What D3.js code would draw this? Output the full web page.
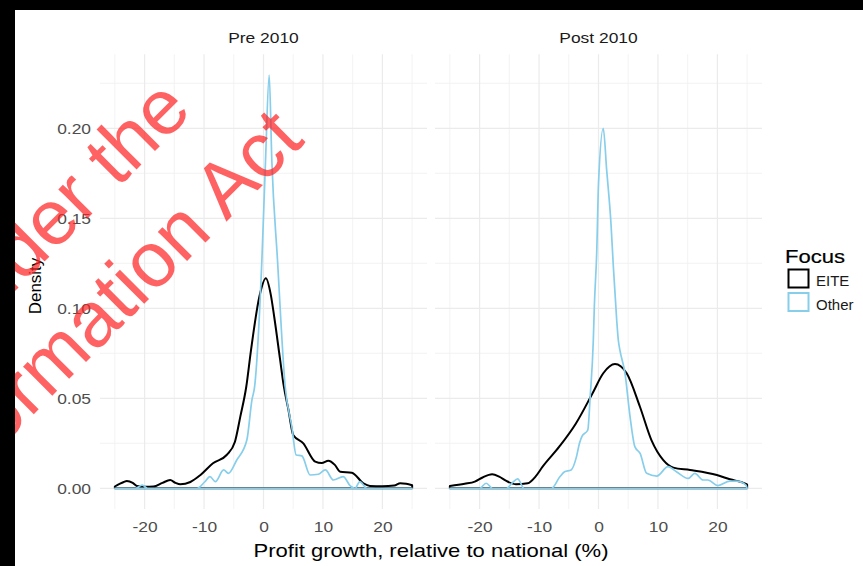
<!DOCTYPE html>
<html>
<head>
<meta charset="utf-8">
<script src="https://cdn.jsdelivr.net/npm/d3@7"></script>
<style>
  body { margin: 0; background: #000; }
  svg { display: block; font-family: "Liberation Sans", Arial, sans-serif; }
</style>
</head>
<body>
<script>
var width = 863,
    height = 566;

// density curves: [x, density]
var preEITE = [[-25,0.001],[-23.5,0.0035],[-23,0.004],[-22,0.003],[-21.3,0.0013],[-20,0.0009],[-18.5,0.001],
    [-17,0.003],[-15.7,0.0046],[-14.8,0.003],[-14,0.0022],[-12.3,0.0035],[-10.6,0.0074],[-8.5,0.0139],
    [-6.2,0.0185],[-4.8,0.0259],[-3.9,0.0398],[-2.9,0.0564],[-2.1,0.0768],[-0.7,0.1064],[0.4,0.1167],
    [1.2,0.108],[1.8,0.0953],[2.8,0.0713],[3.4,0.057],[4.2,0.0435],[5.0,0.0296],[6.7,0.025],[8.7,0.0148],
    [9.8,0.014],[10.9,0.0153],[12.0,0.013],[12.9,0.0092],[14.85,0.0087],[16.8,0.0028],[17.9,0.0013],
    [20,0.0011],[22,0.0015],[23,0.0028],[24,0.0025],[25,0.0017]];
var preOther = [[-25,0],[-21.5,0],[-20.4,0.0018],[-19.5,0],[-11.2,0],[-9.9,0.0035],[-9,0.0065],[-8.1,0.0037],
    [-6.7,0.0102],[-5.9,0.0083],[-4.5,0.0157],[-2.8,0.0268],[-1.95,0.049],[-1.5,0.0564],[-0.27,0.127],
    [0.34,0.182],[0.96,0.2296],[1.4,0.182],[2.35,0.127],[3.65,0.0564],[4.77,0.034],[5.5,0.0185],
    [6.45,0.018],[7.85,0.0074],[9.2,0.0078],[10.4,0.0102],[11.76,0.0046],[13.4,0.0065],[14.6,0.0013],
    [15.4,0],[16.2,0.0037],[17.4,0],[25,0]];
var postEITE = [[-25,0.0013],[-22.5,0.0025],[-20.8,0.0037],[-19.5,0.006],[-17.9,0.0078],[-16.7,0.0065],
    [-15.5,0.0041],[-13.9,0.0022],[-11.9,0.0028],[-10.6,0.0065],[-9.4,0.012],[-6.6,0.0231],[-3.8,0.036],
    [-1,0.0528],[0.8,0.0639],[2.77,0.069],[4.74,0.0639],[6.97,0.0453],[8.9,0.0268],[10.9,0.0157],
    [12.6,0.0115],[15.4,0.0102],[19.9,0.0074],[22.1,0.005],[24.8,0.0024],[25,0.002]];
var postOther = [[-25,0],[-20,0],[-18.9,0.0028],[-17.8,0],[-15.5,0],[-14.5,0.003],[-13.6,0.0052],[-12.5,0],
    [-7.9,0],[-6.5,0.0064],[-5.7,0.0092],[-4.6,0.0102],[-3.7,0.0176],[-3.2,0.025],[-2.8,0.0287],
    [-1.8,0.0324],[-1.4,0.0509],[-0.87,0.0824],[-0.7,0.101],[-0.3,0.131],[0,0.169],[0.8,0.2],[1.37,0.177],
    [2.1,0.147],[2.5,0.123],[3.06,0.0935],[3.33,0.0824],[3.6,0.0768],[4.45,0.064],[5.3,0.04],[6.13,0.023],
    [7,0.0194],[8.1,0.0083],[9.8,0.0068],[11.7,0.012],[13.1,0.0092],[15.1,0.0055],[16.2,0.0083],
    [17.6,0.0046],[18.4,0.0046],[20.1,0.0015],[22.1,0.004],[23.2,0.004],[24.8,0.0018],[25,0]];

var panels = ["Pre 2010", "Post 2010"];
var focusNames = ["EITE", "Other"];
var colors = ["#000000", "#87ceeb"];
var xMajor = [-20, -10, 0, 10, 20],
    xMinor = [-25, -15, -5, 5, 15, 25];
var yMajor = [0, 0.05, 0.10, 0.15, 0.20],
    yMinor = [0.025, 0.075, 0.125, 0.175, 0.225];

var panelData = [[preEITE, preOther], [postEITE, postOther]];
var panelLeft = [100, 435],
    panelW = 327;
var stretch = "scale(1.16,1)"; // the source image is a little wide

var y = d3.scaleLinear().domain([-0.0115, 0.2411]).range([509, 54.3]);

var svg = d3.select("body").append("svg")
    .attr("width", width)
    .attr("height", height);

svg.append("rect").attr("width", width).attr("height", height).attr("fill", "#fff");

function label(parent, x, y, txt, size, color, anchor) {
    return parent.append("text")
        .attr("transform", "translate(" + x + "," + y + ") " + stretch)
        .attr("text-anchor", anchor || "start")
        .attr("font-size", size).attr("fill", color)
        .text(txt);
}

panels.forEach(function (name, p) {
    var x = d3.scaleLinear().domain([-27.5, 27.5]).range([panelLeft[p], panelLeft[p] + panelW]);
    var g = svg.append("g");

    // grid
    g.selectAll("line.ymin").data(yMinor).enter().append("line")
        .attr("x1", x.range()[0]).attr("x2", x.range()[1])
        .attr("y1", d => y(d)).attr("y2", d => y(d))
        .attr("stroke", "#f0f0f0").attr("stroke-width", 0.8);
    g.selectAll("line.xmin").data(xMinor).enter().append("line")
        .attr("y1", y.range()[0]).attr("y2", y.range()[1])
        .attr("x1", d => x(d)).attr("x2", d => x(d))
        .attr("stroke", "#f0f0f0").attr("stroke-width", 0.8);
    g.selectAll("line.ymaj").data(yMajor).enter().append("line")
        .attr("x1", x.range()[0]).attr("x2", x.range()[1])
        .attr("y1", d => y(d)).attr("y2", d => y(d))
        .attr("stroke", "#ebebeb").attr("stroke-width", 1.2);
    g.selectAll("line.xmaj").data(xMajor).enter().append("line")
        .attr("y1", y.range()[0]).attr("y2", y.range()[1])
        .attr("x1", d => x(d)).attr("x2", d => x(d))
        .attr("stroke", "#ebebeb").attr("stroke-width", 1.2);

    // curves, drawn as closed outlines like geom_density
    var area = d3.area()
        .x(d => x(d[0]))
        .y0(y(0))
        .y1(d => y(d[1]))
        .curve(d3.curveMonotoneX);
    panelData[p].forEach(function (series, i) {
        g.append("path")
            .attr("d", area(series))
            .attr("fill", "none")
            .attr("stroke", colors[i])
            .attr("stroke-width", i == 0 ? 2 : 1.7)
            .attr("stroke-linejoin", "round");
    });

    // x axis labels
    var xAxis = d3.axisBottom(x).tickValues(xMajor).tickSize(0).tickPadding(0).tickFormat(d => String(d));
    g.append("g").attr("transform", "translate(0,532)").call(xAxis)
        .call(a => a.select(".domain").remove())
        .selectAll("text")
        .attr("font-family", "Liberation Sans, Arial, sans-serif")
        .attr("font-size", 15).attr("fill", "#4d4d4d").attr("dy", 0)
        .attr("transform", stretch);

    // strip
    label(g, x(0), 43, name, 15, "#1a1a1a", "middle");
});

// y axis labels
var yAxis = d3.axisLeft(y).tickValues(yMajor).tickSize(0).tickPadding(0).tickFormat(d3.format(".2f"));
svg.append("g").attr("transform", "translate(91,0)").call(yAxis)
    .call(a => a.select(".domain").remove())
    .selectAll("text")
    .attr("font-family", "Liberation Sans, Arial, sans-serif")
    .attr("font-size", 15).attr("fill", "#4d4d4d")
    .attr("transform", stretch);

// axis titles
label(svg, 431, 557, "Profit growth, relative to national (%)", 19, "#000", "middle");
svg.append("text")
    .attr("transform", "translate(41,286) rotate(-90)")
    .attr("text-anchor", "middle")
    .attr("font-size", 17).attr("fill", "#000")
    .text("Density");

// legend
var legend = svg.append("g").attr("transform", "translate(785,0)");
label(legend, 0, 263, "Focus", 19, "#000").attr("stroke", "#000").attr("stroke-width", 0.2);
focusNames.forEach(function (n, i) {
    legend.append("rect")
        .attr("x", 3.5).attr("y", 269.5 + i * 23.5)
        .attr("width", 20).attr("height", 18)
        .attr("fill", "#fff").attr("stroke", colors[i]).attr("stroke-width", 2);
    label(legend, 31, 286 + i * 24, n, 15, "#1a1a1a").attr("transform", "translate(31," + (286 + i * 24) + ")");
});

// watermark
var wm = svg.append("g")
    .attr("font-size", 78)
    .attr("fill", "#ff2020")
    .attr("opacity", 0.7)
    .attr("text-anchor", "end");
wm.append("text").attr("transform", "translate(194,112) rotate(-45)").text("Released under the");
wm.append("text").attr("transform", "translate(306,142) rotate(-45)").text("Freedom of Information Act");

// black frame
svg.append("rect").attr("x", 0).attr("y", 0).attr("width", width).attr("height", 10).attr("fill", "#000");
svg.append("rect").attr("x", 0).attr("y", 0).attr("width", 15).attr("height", height).attr("fill", "#000");
</script>
</body>
</html>
